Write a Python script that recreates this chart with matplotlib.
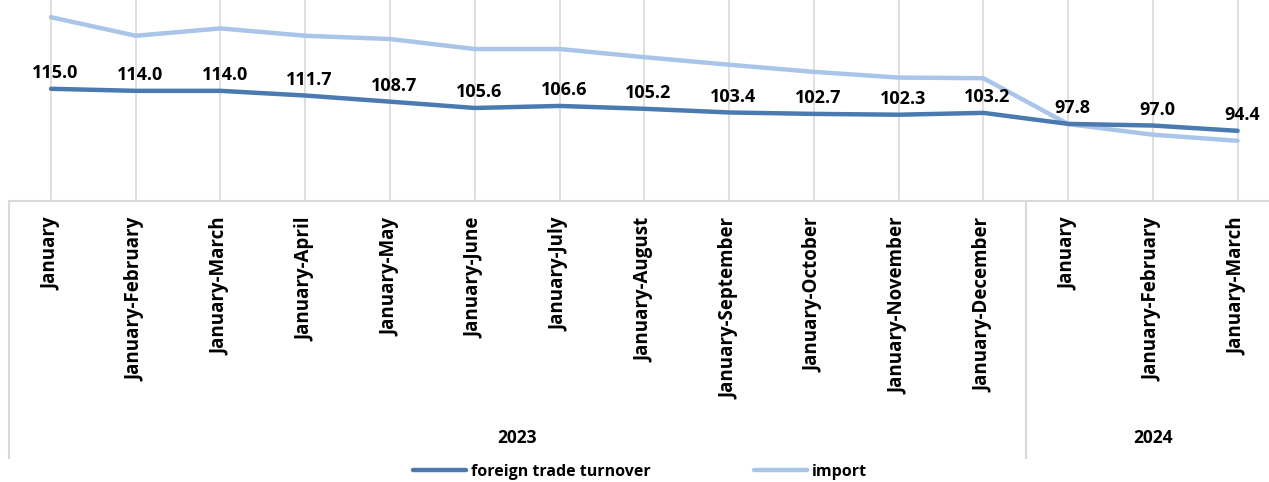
import matplotlib
matplotlib.use('Agg')
from matplotlib import pyplot as plt
from matplotlib.transforms import blended_transform_factory

plt.rcParams['font.family'] = ['Open Sans', 'DejaVu Sans']

periods = ['January', 'January-February', 'January-March', 'January-April',
           'January-May', 'January-June', 'January-July', 'January-August',
           'January-September', 'January-October', 'January-November',
           'January-December', 'January', 'January-February', 'January-March']
years = ['2023', '2024']
year_counts = [12, 3]

turnover = [115.0, 114.0, 114.0, 111.7, 108.7, 105.6, 106.6, 105.2,
            103.4, 102.7, 102.3, 103.2, 97.8, 97.0, 94.4]
# import series has no labels in the source
imports = [150.1, 141.0, 144.6, 141.0, 139.4, 134.5, 134.5, 130.5,
           126.8, 123.3, 120.5, 120.2, 97.7, 92.5, 89.5]

W, H = 1269, 482
fig = plt.figure(figsize=(W / 100, H / 100), dpi=100)
ax_bottom_px = 201
ax_h_px = 204
ax = fig.add_axes([8.6 / W, (H - ax_bottom_px) / H, (1280 - 8.6) / W, ax_h_px / H])

x = list(range(len(periods)))
c_turn = '#4a7ab0'
c_imp = '#a9c5e8'
grid_c = '#d9d9d9'
fw = 'bold'

ax.plot(x, imports, color=c_imp, lw=3.2, solid_capstyle='round', label='import', zorder=3)
ax.plot(x, turnover, color=c_turn, lw=3.2, solid_capstyle='round',
        label='foreign trade turnover', zorder=4)

for xi, v in zip(x, turnover):
    ax.annotate('{:.1f}'.format(v), (xi, v), xytext=(3, 5), textcoords='offset points',
                ha='center', va='bottom', fontsize=13, fontweight=fw, color='black')

ax.set_xlim(-0.5, len(periods) - 0.5)
ax.set_ylim(60, 160)
ax.set_yticks([])
ax.set_xticks(x)
ax.set_xticklabels(periods, rotation=90, fontsize=13.5, fontweight=fw, va='top')
ax.tick_params(axis='x', length=0, pad=12)
ax.grid(axis='x', color=grid_c, lw=1.2)
for s in ['top', 'left', 'right']:
    ax.spines[s].set_visible(False)
ax.spines['bottom'].set_color(grid_c)
ax.spines['bottom'].set_linewidth(1.5)

# group boxes under the category labels
tr = blended_transform_factory(ax.transData, ax.transAxes)
y_low = -(458 - ax_bottom_px) / ax_h_px
y_year = -(438 - ax_bottom_px) / ax_h_px
start = -0.5
for yr, n in zip(years, year_counts):
    ax.plot([start, start], [0, y_low], transform=tr, color=grid_c, lw=1.5, clip_on=False)
    ax.text(start + n / 2, y_year, yr, transform=tr, ha='center', va='center',
            fontsize=12.5, fontweight=fw)
    start += n

handles, labels = ax.get_legend_handles_labels()
fig.legend(handles[::-1], labels[::-1], loc='center', bbox_to_anchor=(640 / W, 1 - 472 / H),
           ncol=2, frameon=False, prop={'weight': fw, 'size': 11.5},
           handlelength=3.3, columnspacing=6.5, handletextpad=0.3)

fig.savefig('out.png', dpi=100)
